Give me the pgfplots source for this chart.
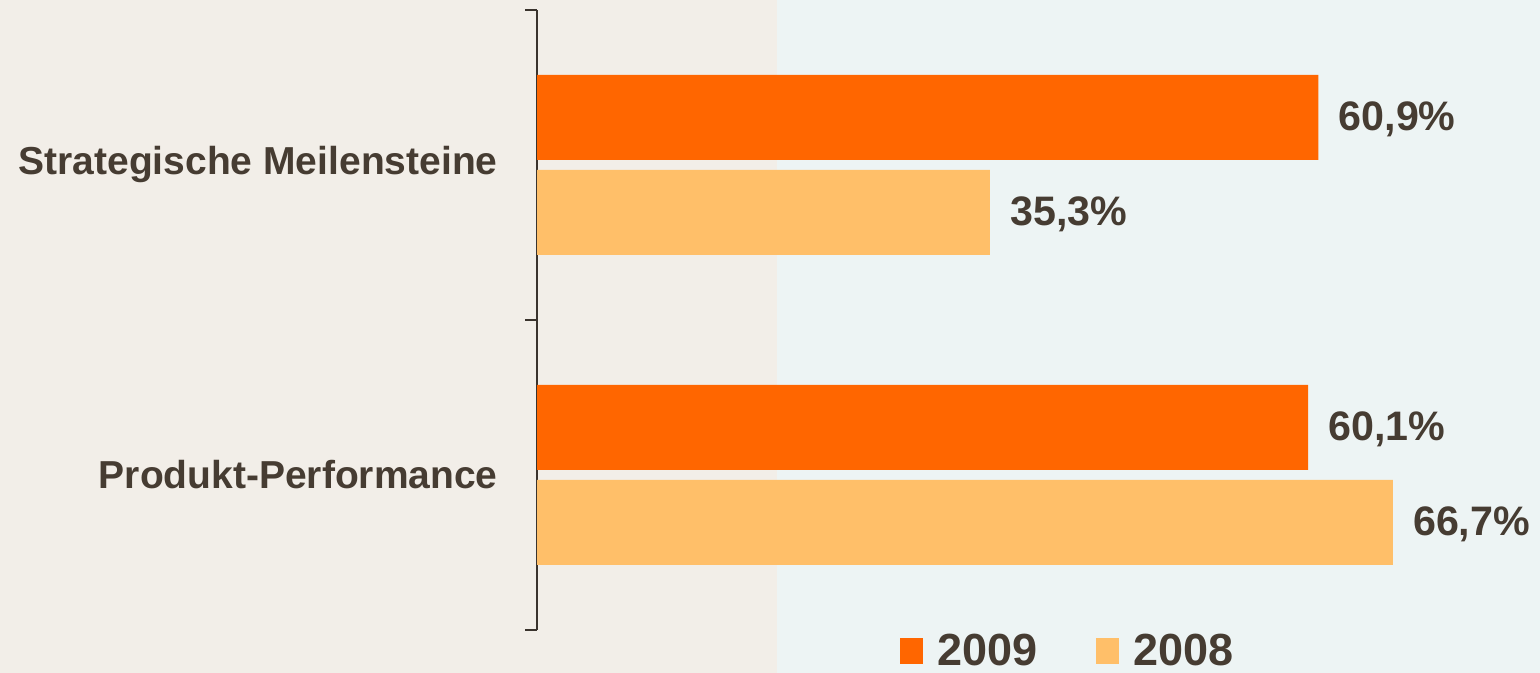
\documentclass[border=0pt]{standalone}
\usepackage{fontspec}
\setmainfont{Liberation Sans}
\usepackage{pgfplots}
\pgfplotsset{compat=1.18}
\definecolor{bgbeige}{HTML}{F2EEE8}
\definecolor{bgblue}{HTML}{EDF4F4}
\definecolor{barA}{HTML}{FF6600}
\definecolor{barB}{HTML}{FFBF69}
\definecolor{txt}{HTML}{463C32}
\definecolor{axcol}{HTML}{3A332D}
\pgfplotsset{sqlegend/.style={legend image code/.code={\fill[##1] (0pt,-6.5pt) rectangle (11.5pt,6.5pt); \path (18.5pt,0pt);}}}
\begin{document}
\begin{tikzpicture}
\useasboundingbox (0pt,0pt) rectangle (770pt,336.5pt);
\fill[bgbeige] (0pt,0pt) rectangle (388.5pt,336.5pt);
\fill[bgblue] (388.5pt,0pt) rectangle (770pt,336.5pt);
\begin{axis}[
  at={(268.5pt,99pt)}, anchor=origin,
  xbar, bar width=42.5pt,
  xmin=0, xmax=78, x=6.415pt,
  ymin=-0.5, ymax=1.5, y=155pt,
  axis x line=none, axis y line=left,
  axis line style={-, line width=1pt, color=axcol},
  ytick={0,1},
  yticklabels={Produkt-Performance, Strategische Meilensteine},
  major tick length=0pt,
  minor ytick={-0.5,0.5,1.5},
  minor tick length=6pt,
  tick align=outside,
  ytick pos=left,
  minor tick style={line width=1pt, color=axcol},
  yticklabel style={font=\fontsize{19.5}{23}\selectfont\bfseries, text=txt, inner sep=0pt, xshift=-19.5pt},
  /pgf/number format/assume math mode=true,
  /pgf/number format/use comma,
  /pgf/number format/fixed,
  /pgf/number format/fixed zerofill,
  /pgf/number format/precision=1,
  nodes near coords={\pgfmathprintnumber{\pgfplotspointmeta}\%},
  nodes near coords style={anchor=west, inner sep=0pt, xshift=10pt, yshift=-0.8pt, font=\fontsize{20.6}{24}\selectfont\bfseries, text=txt},
  legend columns=2,
  legend style={at={(0.5296,-0.0345)}, anchor=center, draw=none, fill=none, inner sep=0pt,
    font=\fontsize{22.5}{26}\selectfont\bfseries, text=txt,
    nodes={inner sep=0pt},
    /tikz/every even column/.append style={column sep=29.5pt}},
  clip=false,
]
\addplot[fill=barA, draw=none, bar shift=23.75pt, sqlegend] coordinates {(60.1,0) (60.9,1)};
\addplot[fill=barB, draw=none, bar shift=-23.75pt, sqlegend] coordinates {(66.7,0) (35.3,1)};
\legend{2009, 2008}
\end{axis}
\end{tikzpicture}
\end{document}
